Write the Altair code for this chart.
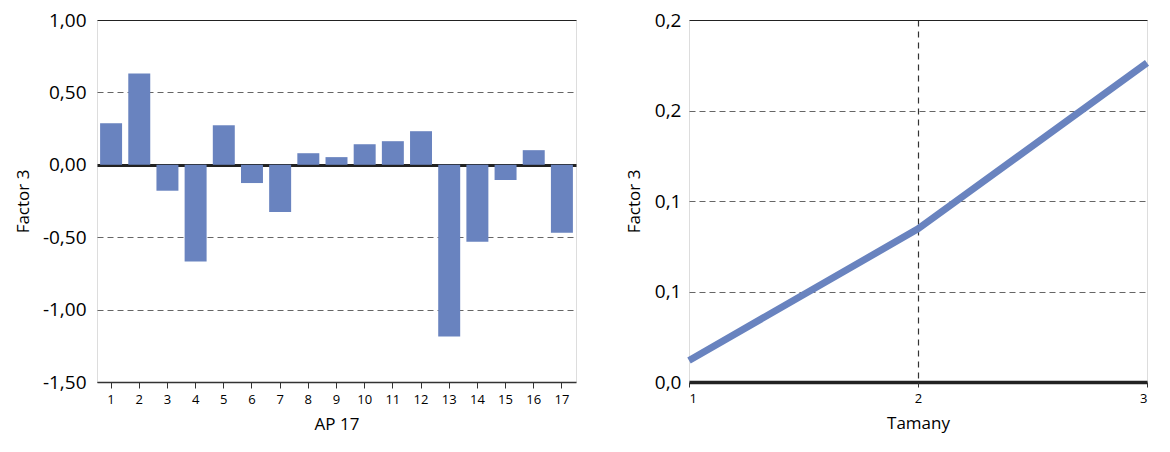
import altair as alt
import pandas as pd

# Left panel: AP 17 categories and Factor 3 scores
ap_items = list(range(1, 18))
ap_values = [0.287, 0.631, -0.179, -0.668, 0.273, -0.126, -0.326, 0.080, 0.053,
             0.142, 0.163, 0.232, -1.186, -0.532, -0.105, 0.101, -0.470]

# Right panel: Tamany vs Factor 3
tamany = [1, 2, 3]
tamany_values = [0.0119, 0.0846, 0.1763]

left_ticks = [-1.5, -1.0, -0.5, 0.0, 0.5, 1.0]
right_ticks = [0.0, 0.05, 0.1, 0.15, 0.2]

FONT = "Open Sans"
BAR = "#6983BF"
TXT = "#333333"

df_left = pd.DataFrame({"item": ap_items, "value": ap_values})
df_right = pd.DataFrame({"tamany": tamany, "value": tamany_values})

left = alt.Chart(df_left).mark_bar(color=BAR).encode(
    x=alt.X("item:O", title="AP 17",
            scale=alt.Scale(paddingInner=0.22, paddingOuter=0.11),
            axis=alt.Axis(labelAngle=0, labelFontSize=13, labelPadding=5,
                          tickSize=6, tickColor=TXT, domainColor=TXT, domainWidth=1.5,
                          titleFontSize=17, titlePadding=10, titleFontWeight="normal")),
    y=alt.Y("value:Q", title="Factor 3",
            scale=alt.Scale(domain=[-1.5, 1.0], nice=False, zero=False),
            axis=alt.Axis(values=left_ticks, domain=False, ticks=False,
                          labelExpr="(datum.value < 0 ? '-' : '') + replace(format(abs(datum.value), '.2f'), '.', ',')",
                          labelFontSize=19, labelPadding=11,
                          titleFontSize=17, titlePadding=10, titleFontWeight="normal",
                          grid=True,
                          gridColor={"condition": {"test": "abs(datum.value) < 1e-9 || datum.value == 1", "value": "#222222"}, "value": "#666666"},
                          gridWidth={"condition": {"test": "abs(datum.value) < 1e-9", "value": 3}, "value": 1.2},
                          gridDash={"condition": {"test": "abs(datum.value) < 1e-9 || datum.value == 1", "value": []}, "value": [6, 4]})),
).properties(width=479, height=362)

right = alt.Chart(df_right).mark_line(color=BAR, strokeWidth=7).encode(
    x=alt.X("tamany:Q", title="Tamany",
            scale=alt.Scale(domain=[1, 3], nice=False, zero=False),
            axis=alt.Axis(values=tamany, tickCount=3,
                          labelExpr="format(datum.value, 'd')",
                          labelFontSize=13, labelPadding=5,
                          labelOverlap=False, labelFlush=True,
                          tickSize=5, tickColor=TXT, domain=False,
                          titleFontSize=17, titlePadding=10, titleFontWeight="normal",
                          grid=True, gridWidth=1.2, gridDash=[6, 5],
                          gridColor={"condition": {"test": "datum.value == 2", "value": "#333333"}, "value": "rgba(0,0,0,0)"})),
    y=alt.Y("value:Q", title="Factor 3",
            scale=alt.Scale(domain=[0, 0.2], nice=False),
            axis=alt.Axis(values=right_ticks, domain=False, ticks=False,
                          labelExpr="replace(format(round(datum.value * 10) / 10, '.1f'), '.', ',')",
                          labelFontSize=19, labelPadding=8,
                          titleFontSize=17, titlePadding=11, titleFontWeight="normal",
                          grid=True,
                          gridColor={"condition": {"test": "datum.value < 1e-9 || datum.value > 0.199", "value": "#222222"}, "value": "#666666"},
                          gridWidth={"condition": {"test": "datum.value < 1e-9", "value": 3.5}, "value": 1.2},
                          gridDash={"condition": {"test": "datum.value < 1e-9 || datum.value > 0.199", "value": []}, "value": [6, 4]})),
).properties(width=458, height=362)

chart = alt.hconcat(left, right, spacing=47).configure_view(stroke=None).configure_axis(
    labelFont=FONT, titleFont=FONT, labelColor=TXT, titleColor=TXT
).properties(padding={"left": 5, "top": 2, "right": 0, "bottom": 0}).configure(
    background="white", font=FONT)

chart.save("out.html", embed_options={"renderer": "svg", "actions": False})
